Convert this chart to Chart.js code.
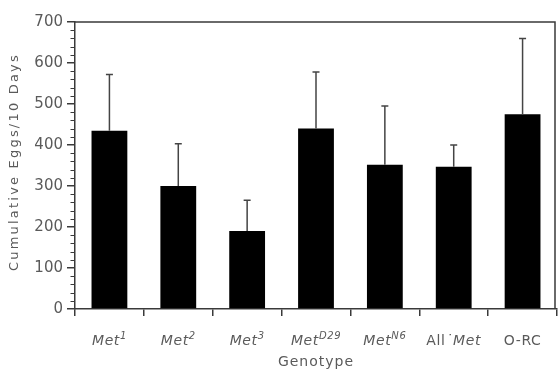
<!DOCTYPE html>
<html>
<head>
<meta charset="utf-8">
<script src="https://cdn.jsdelivr.net/npm/chart.js@4/dist/chart.umd.min.js"></script>
<style>
  html, body { margin: 0; padding: 0; background: #fff; }
  #wrap { width: 558px; height: 370px; }
</style>
</head>
<body>
<div id="wrap"><canvas id="c" width="558" height="370"></canvas></div>
<script>
// Genotypes and cumulative egg counts over 10 days (mean and one standard deviation)
const categories = ['Met1', 'Met2', 'Met3', 'MetD29', 'MetN6', "All'Met", 'O-RC'];
const meanEggs = [435, 300, 190, 440, 352, 347, 475];
const sdEggs = [137, 103, 75, 138, 143, 53, 185];
const yTickValues = [0, 100, 200, 300, 400, 500, 600, 700];
const yTitle = 'Cumulative Eggs/10 Days';
const xTitle = 'Genotype';

// Genotype names split into runs: italic symbol, superscript allele, upright text
const labelRuns = [
  [{ t: 'Met', i: true }, { t: '1', i: true, sup: true }],
  [{ t: 'Met', i: true }, { t: '2', i: true, sup: true }],
  [{ t: 'Met', i: true }, { t: '3', i: true, sup: true }],
  [{ t: 'Met', i: true }, { t: 'D29', i: true, sup: true }],
  [{ t: 'Met', i: true }, { t: 'N6', i: true, sup: true }],
  [{ t: 'All' }, { t: '\u02D9', i: true }, { t: 'Met', i: true }],
  [{ t: 'O-RC' }]
];

const FONT = '"DejaVu Sans", sans-serif';
const TEXT = '#5a5a5a';
const AXIS = '#3a3a3a';

const decorPlugin = {
  id: 'decor',
  afterDatasetsDraw(chart) {
    const ctx = chart.ctx;
    const y = chart.scales.y;
    const meta = chart.getDatasetMeta(0);
    ctx.save();
    // one-sided error bars
    ctx.strokeStyle = '#444';
    ctx.lineWidth = 1.5;
    meta.data.forEach((bar, i) => {
      const top = y.getPixelForValue(meanEggs[i] + sdEggs[i]);
      ctx.beginPath();
      ctx.moveTo(bar.x, bar.y);
      ctx.lineTo(bar.x, top);
      ctx.moveTo(bar.x - 3.5, top);
      ctx.lineTo(bar.x + 3.5, top);
      ctx.stroke();
    });
    ctx.restore();
  },
  afterDraw(chart) {
    const ctx = chart.ctx;
    const area = chart.chartArea;
    const x = chart.scales.x;
    const y = chart.scales.y;
    ctx.save();
    // frame along top and right
    ctx.strokeStyle = AXIS;
    ctx.lineWidth = 1.5;
    ctx.beginPath();
    ctx.moveTo(area.left, area.top);
    ctx.lineTo(area.right - 2, area.top);
    ctx.lineTo(area.right - 2, area.bottom);
    ctx.stroke();
    // minor ticks every 20 on the value axis
    ctx.lineWidth = 1.2;
    ctx.beginPath();
    for (let v = 20; v < 700; v += 20) {
      if (v % 100 === 0) continue;
      const py = Math.round(y.getPixelForValue(v)) + 0.5;
      ctx.moveTo(area.left - 4.5, py);
      ctx.lineTo(area.left, py);
    }
    ctx.stroke();

    // value axis title
    ctx.fillStyle = TEXT;
    ctx.font = '13px ' + FONT;
    ctx.letterSpacing = '2.2px';
    ctx.textAlign = 'center';
    ctx.textBaseline = 'middle';
    ctx.translate(15, 162);
    ctx.rotate(-Math.PI / 2);
    ctx.fillText(yTitle, 0, 0);
    ctx.setTransform(1, 0, 0, 1, 0, 0);

    // category labels with superscripts
    ctx.letterSpacing = '0.6px';
    ctx.textAlign = 'left';
    ctx.textBaseline = 'alphabetic';
    const fontFor = (r) => (r.i ? 'italic ' : '') + (r.sup ? '10px ' : '14px ') + FONT;
    labelRuns.forEach((runs, i) => {
      let w = 0;
      runs.forEach(r => { ctx.font = fontFor(r); w += ctx.measureText(r.t).width; });
      let px = x.getPixelForValue(i) - w / 2;
      const base = 345;
      runs.forEach(r => {
        ctx.font = fontFor(r);
        ctx.fillText(r.t, px, r.sup ? base - 6 : base);
        px += ctx.measureText(r.t).width;
      });
    });

    // category axis title
    ctx.font = '14px ' + FONT;
    ctx.letterSpacing = '1px';
    ctx.textAlign = 'center';
    ctx.fillText(xTitle, (area.left + area.right) / 2, 366);
    ctx.restore();
  }
};

new Chart(document.getElementById('c'), {
  type: 'bar',
  data: {
    labels: categories,
    datasets: [{
      data: meanEggs,
      backgroundColor: '#000',
      borderWidth: 0,
      barPercentage: 0.52,
      categoryPercentage: 1.0
    }]
  },
  options: {
    responsive: false,
    animation: false,
    events: [],
    layout: { padding: { top: 22, right: 1, left: 0, bottom: 0 } },
    plugins: { legend: { display: false }, tooltip: { enabled: false } },
    scales: {
      x: {
        ticks: { display: false },
        grid: { offset: true, drawOnChartArea: false, drawTicks: true, tickLength: 7, color: AXIS, lineWidth: 1.5 },
        border: { display: true, color: AXIS, width: 1.5 },
        afterFit(scale) { scale.height = 61; }
      },
      y: {
        min: 0,
        max: 700,
        afterBuildTicks(scale) { scale.ticks = yTickValues.map(v => ({ value: v })); },
        ticks: { color: TEXT, font: { family: FONT, size: 15 }, padding: 4 },
        grid: { drawOnChartArea: false, drawTicks: true, tickLength: 8, color: AXIS, lineWidth: 1.5 },
        border: { display: true, color: AXIS, width: 1.5 },
        afterFit(scale) { scale.width = 75; }
      }
    }
  },
  plugins: [decorPlugin]
});
</script>
</body>
</html>
